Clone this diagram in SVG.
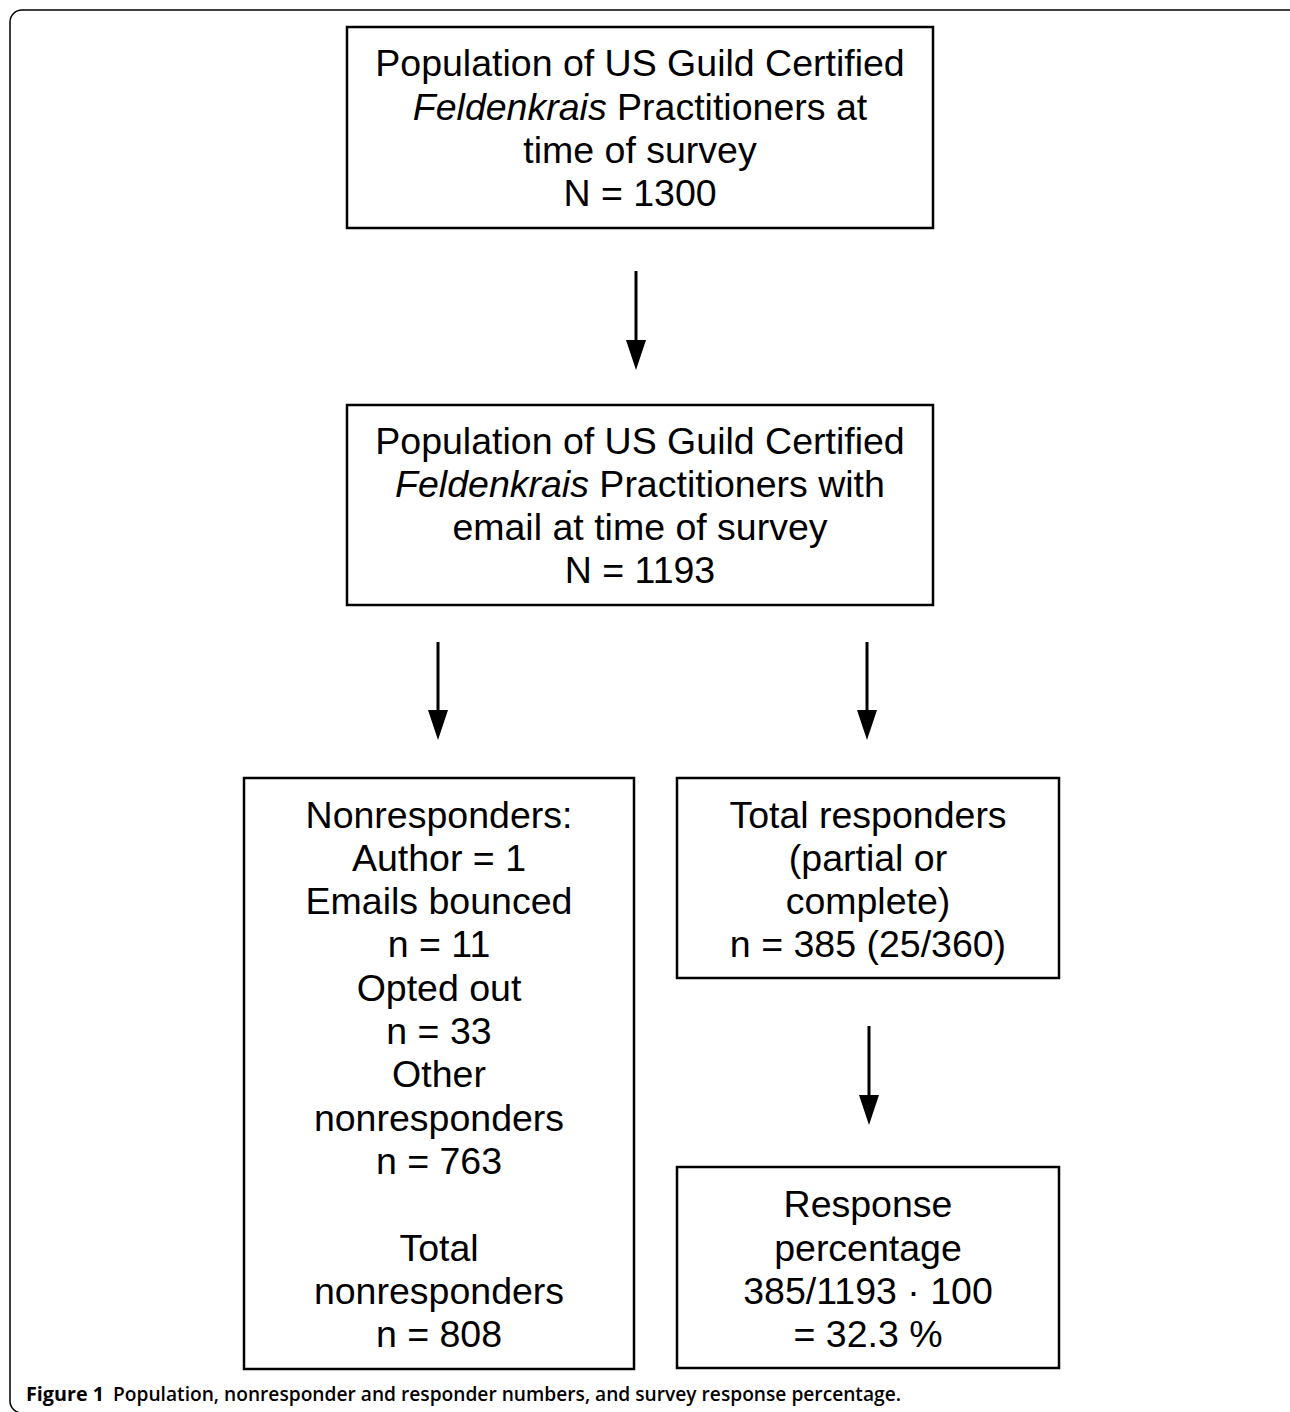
<svg xmlns="http://www.w3.org/2000/svg" width="1290" height="1412" viewBox="0 0 1290 1412">
<style>
.box{fill:#fff;stroke:#000;stroke-width:2.5}
.t{font-family:"Liberation Sans",Arial,sans-serif;font-size:37.5px;fill:#000;text-anchor:middle}
.i{font-style:italic}
.c{stroke:#000;stroke-width:3;fill:none}
.cap{font-family:"Open Sans","DejaVu Sans",sans-serif;font-size:20px;fill:#000}
</style>
<rect x="0" y="0" width="1290" height="1412" fill="#fff"/>
<rect x="10" y="10" width="1300" height="1403" rx="12" fill="none" stroke="#000" stroke-width="1.5"/>
<g id="connectors">
<path class="c" d="M636,271 V340"/><path d="M626,340 L646,340 L636,370 Z"/>
<path class="c" d="M438,642 V710"/><path d="M428,710 L448,710 L438,740 Z"/>
<path class="c" d="M867,642 V710"/><path d="M857,710 L877,710 L867,740 Z"/>
<path class="c" d="M869,1026 V1095"/><path d="M859,1095 L879,1095 L869,1125 Z"/>
</g>
<g id="node1">
<rect class="box" x="347" y="27" width="586" height="201"/>
<text class="t" x="640" y="76">Population of US Guild Certified</text>
<text class="t" x="640" y="120"><tspan class="i">Feldenkrais</tspan> Practitioners at</text>
<text class="t" x="640" y="163">time of survey</text>
<text class="t" x="640" y="206">N = 1300</text>
</g>
<g id="node2">
<rect class="box" x="347" y="405" width="586" height="200"/>
<text class="t" x="640" y="454">Population of US Guild Certified</text>
<text class="t" x="640" y="497"><tspan class="i">Feldenkrais</tspan> Practitioners with</text>
<text class="t" x="640" y="540">email at time of survey</text>
<text class="t" x="640" y="583">N = 1193</text>
</g>
<g id="node3">
<rect class="box" x="244" y="778" width="390" height="591"/>
<text class="t" x="439" y="828">Nonresponders:</text>
<text class="t" x="439" y="871">Author = 1</text>
<text class="t" x="439" y="914">Emails bounced</text>
<text class="t" x="439" y="957">n = 11</text>
<text class="t" x="439" y="1001">Opted out</text>
<text class="t" x="439" y="1044">n = 33</text>
<text class="t" x="439" y="1087">Other</text>
<text class="t" x="439" y="1131">nonresponders</text>
<text class="t" x="439" y="1174">n = 763</text>
<text class="t" x="439" y="1261">Total</text>
<text class="t" x="439" y="1304">nonresponders</text>
<text class="t" x="439" y="1347">n = 808</text>
</g>
<g id="node4">
<rect class="box" x="677" y="778" width="382" height="200"/>
<text class="t" x="868" y="828">Total responders</text>
<text class="t" x="868" y="871">(partial or</text>
<text class="t" x="868" y="914">complete)</text>
<text class="t" x="868" y="957">n = 385 (25/360)</text>
</g>
<g id="node5">
<rect class="box" x="677" y="1167" width="382" height="201"/>
<text class="t" x="868" y="1217">Response</text>
<text class="t" x="868" y="1261">percentage</text>
<text class="t" x="868" y="1304">385/1193 · 100</text>
<text class="t" x="868" y="1347">= 32.3 %</text>
</g>
<g id="caption">
<text class="cap" x="26" y="1401" font-weight="bold" textLength="78" lengthAdjust="spacingAndGlyphs">Figure 1</text>
<text class="cap" x="113" y="1401" font-weight="600" textLength="788" lengthAdjust="spacingAndGlyphs">Population, nonresponder and responder numbers, and survey response percentage.</text>
</g>
</svg>
